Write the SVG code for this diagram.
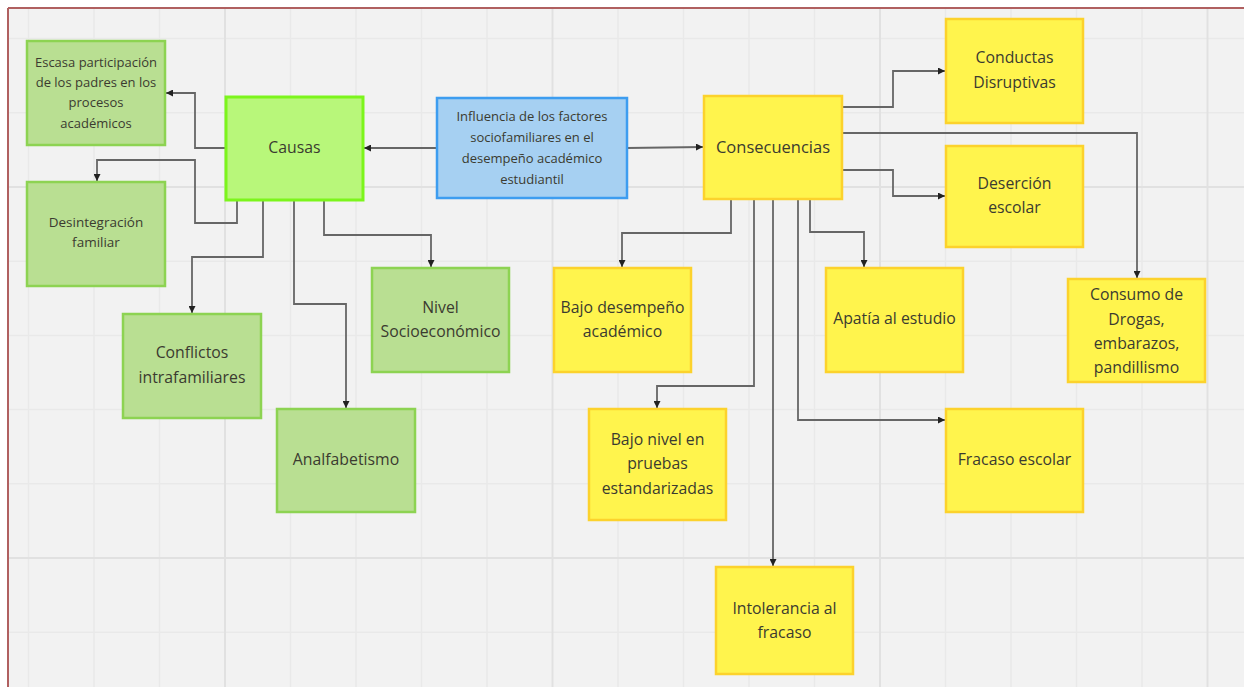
<svg xmlns="http://www.w3.org/2000/svg" width="1244" height="687" viewBox="0 0 1244 687">
<defs>
<marker id="ah" viewBox="0 0 10 10" refX="10" refY="5" markerWidth="8" markerHeight="7" markerUnits="userSpaceOnUse" orient="auto">
<path d="M0,0 L10,5 L0,10 z" fill="#222"/>
</marker>
</defs>
<style>
.g{fill:#b9df92;stroke:#8dd352;stroke-width:2.5}
.gc{fill:#b8f77a;stroke:#7cf51c;stroke-width:3}
.b{fill:#a6d0f2;stroke:#3d9df0;stroke-width:2.5}
.y{fill:#fff44d;stroke:#fcd22c;stroke-width:2.5}
text{font-family:"Open Sans","Noto Sans","DejaVu Sans",sans-serif;fill:#3b3b30;text-anchor:middle;dominant-baseline:central;font-size:15.8px}
.s{font-size:13px}
.m{font-size:13.5px}
.l{font-size:16.5px}
.c{fill:none;stroke:#666;stroke-width:1.8;marker-end:url(#ah)}
.mn{stroke:#e9e9e9;stroke-width:1.5}
.mj{stroke:#e1e1e1;stroke-width:2}
</style>
<rect x="0" y="0" width="1244" height="687" fill="#ffffff"/>
<rect x="8" y="8" width="1236" height="679" fill="#f2f2f2"/>
<g id="grid">
<g class="mn">
<line x1="28.5" y1="9" x2="28.5" y2="687"/><line x1="94" y1="9" x2="94" y2="687"/><line x1="159.5" y1="9" x2="159.5" y2="687"/>
<line x1="290.5" y1="9" x2="290.5" y2="687"/><line x1="356" y1="9" x2="356" y2="687"/><line x1="421.5" y1="9" x2="421.5" y2="687"/><line x1="487" y1="9" x2="487" y2="687"/>
<line x1="618" y1="9" x2="618" y2="687"/><line x1="683.5" y1="9" x2="683.5" y2="687"/><line x1="749" y1="9" x2="749" y2="687"/><line x1="814.5" y1="9" x2="814.5" y2="687"/>
<line x1="945.5" y1="9" x2="945.5" y2="687"/><line x1="1011" y1="9" x2="1011" y2="687"/><line x1="1076.5" y1="9" x2="1076.5" y2="687"/><line x1="1142" y1="9" x2="1142" y2="687"/>
<line x1="9" y1="38.6" x2="1244" y2="38.6"/><line x1="9" y1="112.8" x2="1244" y2="112.8"/><line x1="9" y1="261.2" x2="1244" y2="261.2"/><line x1="9" y1="335.4" x2="1244" y2="335.4"/>
<line x1="9" y1="409.6" x2="1244" y2="409.6"/><line x1="9" y1="483.8" x2="1244" y2="483.8"/><line x1="9" y1="632.2" x2="1244" y2="632.2"/>
</g>
<g class="mj">
<line x1="225" y1="9" x2="225" y2="687"/><line x1="552.5" y1="9" x2="552.5" y2="687"/><line x1="880" y1="9" x2="880" y2="687"/><line x1="1207.5" y1="9" x2="1207.5" y2="687"/>
<line x1="9" y1="187" x2="1244" y2="187"/><line x1="9" y1="558" x2="1244" y2="558"/>
</g>
</g>
<g id="border" stroke="#b06060" stroke-width="2">
<line x1="8" y1="8" x2="1244" y2="8"/>
<line x1="8" y1="8" x2="8" y2="687"/>
</g>
<g id="connectors">
<path class="c" d="M437,148 L364,148"/>
<path class="c" d="M627,148 L703,147"/>
<path class="c" d="M226,148 L195,148 L195,93 L166,93"/>
<path class="c" d="M237,200 L237,223 L195,223 L195,160 L97,160 L97,181"/>
<path class="c" d="M263,200 L263,257 L192,257 L192,313"/>
<path class="c" d="M294,200 L294,304 L346,304 L346,408"/>
<path class="c" d="M324,200 L324,235 L431,235 L431,267"/>
<path class="c" d="M842,107 L893,107 L893,71 L945,71"/>
<path class="c" d="M842,133 L1137,133 L1137,278"/>
<path class="c" d="M842,170 L893,170 L893,196 L945,196"/>
<path class="c" d="M810,199 L810,232 L864,232 L864,267"/>
<path class="c" d="M731,199 L731,233 L622,233 L622,267"/>
<path class="c" d="M754,199 L754,386 L657,386 L657,408"/>
<path class="c" d="M773,199 L773,566"/>
<path class="c" d="M798,199 L798,420 L945,420"/>
</g>
<g id="n-escasa">
<rect class="g" x="27" y="41" width="138" height="104"/>
<text class="s" x="96" y="62">Escasa participación</text>
<text class="s" x="96" y="82">de los padres en los</text>
<text class="s" x="96" y="102">procesos</text>
<text class="s" x="96" y="123">académicos</text>
</g>
<g id="n-causas">
<rect class="gc" x="226" y="97" width="137" height="103"/>
<text x="294.5" y="147">Causas</text>
</g>
<g id="n-desintegracion">
<rect class="g" x="27" y="182" width="138" height="104"/>
<text class="m" x="96" y="222">Desintegración</text>
<text class="m" x="96" y="242">familiar</text>
</g>
<g id="n-conflictos">
<rect class="g" x="123" y="314" width="138" height="104"/>
<text x="192" y="352">Conflictos</text>
<text x="192" y="377">intrafamiliares</text>
</g>
<g id="n-analfabetismo">
<rect class="g" x="277" y="409" width="138" height="103"/>
<text x="346" y="459">Analfabetismo</text>
</g>
<g id="n-nivel">
<rect class="g" x="372" y="268" width="137" height="104"/>
<text x="440.5" y="307">Nivel</text>
<text x="440.5" y="331">Socioeconómico</text>
</g>
<g id="n-influencia">
<rect class="b" x="437" y="98" width="190" height="100"/>
<text class="s" x="532" y="116">Influencia de los factores</text>
<text class="s" x="532" y="137">sociofamiliares en el</text>
<text class="s" x="532" y="158">desempeño académico</text>
<text class="s" x="532" y="179">estudiantil</text>
</g>
<g id="n-consecuencias">
<rect class="y" x="704" y="96" width="138" height="103"/>
<text class="l" x="773" y="146">Consecuencias</text>
</g>
<g id="n-conductas">
<rect class="y" x="946" y="19" width="137" height="104"/>
<text x="1014.5" y="57">Conductas</text>
<text x="1014.5" y="82">Disruptivas</text>
</g>
<g id="n-desercion">
<rect class="y" x="946" y="146" width="137" height="101"/>
<text x="1014.5" y="183">Deserción</text>
<text x="1014.5" y="207">escolar</text>
</g>
<g id="n-consumo">
<rect class="y" x="1068" y="279" width="137" height="103"/>
<text x="1136.5" y="294">Consumo de</text>
<text x="1136.5" y="319">Drogas,</text>
<text x="1136.5" y="343">embarazos,</text>
<text x="1136.5" y="367">pandillismo</text>
</g>
<g id="n-bajo-desempeno">
<rect class="y" x="554" y="268" width="137" height="104"/>
<text x="622.5" y="307">Bajo desempeño</text>
<text x="622.5" y="331">académico</text>
</g>
<g id="n-apatia">
<rect class="y" x="826" y="268" width="137" height="104"/>
<text x="894.5" y="318">Apatía al estudio</text>
</g>
<g id="n-bajo-nivel">
<rect class="y" x="589" y="409" width="137" height="111"/>
<text x="657.5" y="439">Bajo nivel en</text>
<text x="657.5" y="463">pruebas</text>
<text x="657.5" y="488">estandarizadas</text>
</g>
<g id="n-fracaso">
<rect class="y" x="946" y="409" width="137" height="103"/>
<text x="1014.5" y="459">Fracaso escolar</text>
</g>
<g id="n-intolerancia">
<rect class="y" x="716" y="567" width="137" height="107"/>
<text x="784.5" y="608">Intolerancia al</text>
<text x="784.5" y="632">fracaso</text>
</g>
</svg>
